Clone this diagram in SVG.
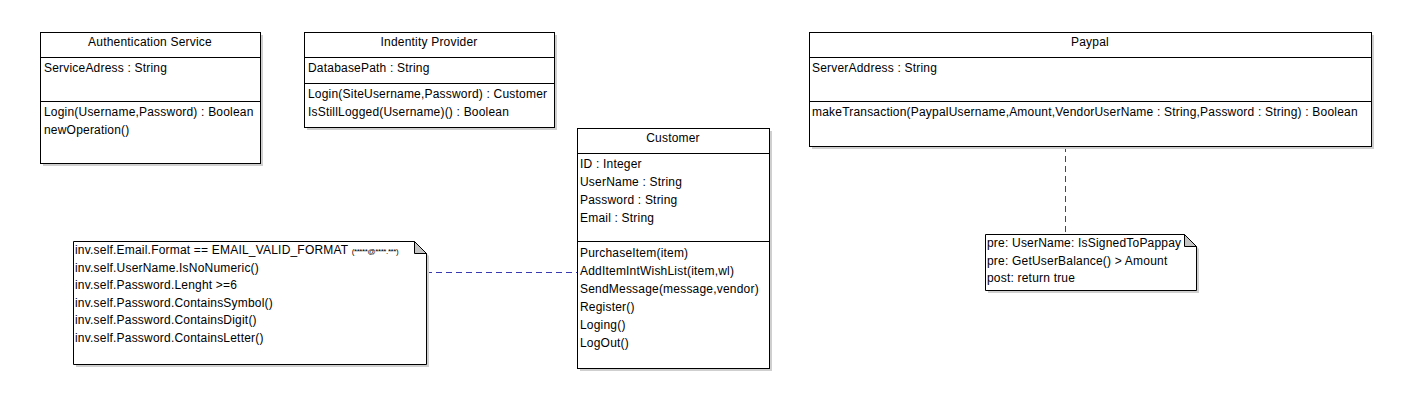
<svg xmlns="http://www.w3.org/2000/svg" width="1410" height="416" viewBox="0 0 1410 416">
<style>
text{font-family:"Liberation Sans",Arial,sans-serif;font-size:12px;letter-spacing:0.2px;fill:#000}
.t{text-anchor:middle}
.sm{font-size:8px;letter-spacing:-0.4px}
.box{fill:#fff;stroke:#000;stroke-width:1}
.sh{fill:#cfcfcf}
.div{stroke:#000;stroke-width:1}
.conn{stroke:#3a3ab0;stroke-width:1;stroke-dasharray:6 4;fill:none}
.fold{fill:#c4c4c4;stroke:#000;stroke-width:1}
</style>
<rect width="1410" height="416" fill="#fff"/>
<g id="connectors">
<line class="conn" x1="426" y1="272.5" x2="577" y2="272.5"/>
<line class="conn" x1="1065.5" y1="146" x2="1065.5" y2="234"/>
</g>
<g id="auth">
<rect class="sh" x="43" y="35" width="220" height="131"/>
<rect class="box" x="40.5" y="32.5" width="220" height="131"/>
<line class="div" x1="40.5" y1="57.5" x2="260.5" y2="57.5"/>
<line class="div" x1="40.5" y1="101.5" x2="260.5" y2="101.5"/>
<text class="t" x="150" y="46">Authentication Service</text>
<text x="44" y="72">ServiceAdress : String</text>
<text x="44" y="116">Login(Username,Password) : Boolean</text>
<text x="44" y="134">newOperation()</text>
</g>
<g id="idp">
<rect class="sh" x="307" y="35" width="250" height="95"/>
<rect class="box" x="304.5" y="32.5" width="250" height="95"/>
<line class="div" x1="304.5" y1="57.5" x2="554.5" y2="57.5"/>
<line class="div" x1="304.5" y1="83.5" x2="554.5" y2="83.5"/>
<text class="t" x="429" y="46">Indentity Provider</text>
<text x="308" y="72">DatabasePath : String</text>
<text x="308" y="98">Login(SiteUsername,Password) : Customer</text>
<text x="308" y="116">IsStillLogged(Username)() : Boolean</text>
</g>
<g id="customer">
<rect class="sh" x="580" y="131" width="192" height="240"/>
<rect class="box" x="577.5" y="128.5" width="192" height="240"/>
<line class="div" x1="577.5" y1="153.5" x2="769.5" y2="153.5"/>
<line class="div" x1="577.5" y1="241.5" x2="769.5" y2="241.5"/>
<text class="t" x="673" y="142">Customer</text>
<text x="580" y="168">ID : Integer</text>
<text x="580" y="186">UserName : String</text>
<text x="580" y="204">Password : String</text>
<text x="580" y="222">Email : String</text>
<text x="580" y="257">PurchaseItem(item)</text>
<text x="580" y="275">AddItemIntWishList(item,wl)</text>
<text x="580" y="293">SendMessage(message,vendor)</text>
<text x="580" y="311">Register()</text>
<text x="580" y="329">Loging()</text>
<text x="580" y="347">LogOut()</text>
</g>
<g id="paypal">
<rect class="sh" x="812" y="35" width="562" height="114"/>
<rect class="box" x="809.5" y="32.5" width="562" height="114"/>
<line class="div" x1="809.5" y1="57.5" x2="1371.5" y2="57.5"/>
<line class="div" x1="809.5" y1="101.5" x2="1371.5" y2="101.5"/>
<text class="t" x="1090" y="46">Paypal</text>
<text x="812" y="72">ServerAddress : String</text>
<text x="812" y="116">makeTransaction(PaypalUsername,Amount,VendorUserName : String,Password : String) : Boolean</text>
</g>
<g id="note-customer">
<path class="sh" d="M76 244 H417 L429 256 V367 H76 Z"/>
<path class="box" d="M73.5 241.5 H414.5 L426.5 253.5 V364.5 H73.5 Z"/>
<path class="fold" d="M414.5 241.5 L426.5 253.5 H414.5 Z"/>
<text x="75" y="254">inv.self.Email.Format == EMAIL_VALID_FORMAT <tspan class="sm">(*****@****.***)</tspan></text>
<text x="75" y="272">inv.self.UserName.IsNoNumeric()</text>
<text x="75" y="289">inv.self.Password.Lenght &gt;=6</text>
<text x="75" y="307">inv.self.Password.ContainsSymbol()</text>
<text x="75" y="324">inv.self.Password.ContainsDigit()</text>
<text x="75" y="342">inv.self.Password.ContainsLetter()</text>
</g>
<g id="note-paypal">
<path class="sh" d="M988 237 H1187 L1199 249 V293 H988 Z"/>
<path class="box" d="M985.5 234.5 H1184.5 L1196.5 246.5 V290.5 H985.5 Z"/>
<path class="fold" d="M1184.5 234.5 L1196.5 246.5 H1184.5 Z"/>
<text x="987" y="247">pre: UserName: IsSignedToPappay</text>
<text x="987" y="265">pre: GetUserBalance() &gt; Amount</text>
<text x="987" y="282">post: return true</text>
</g>
</svg>
